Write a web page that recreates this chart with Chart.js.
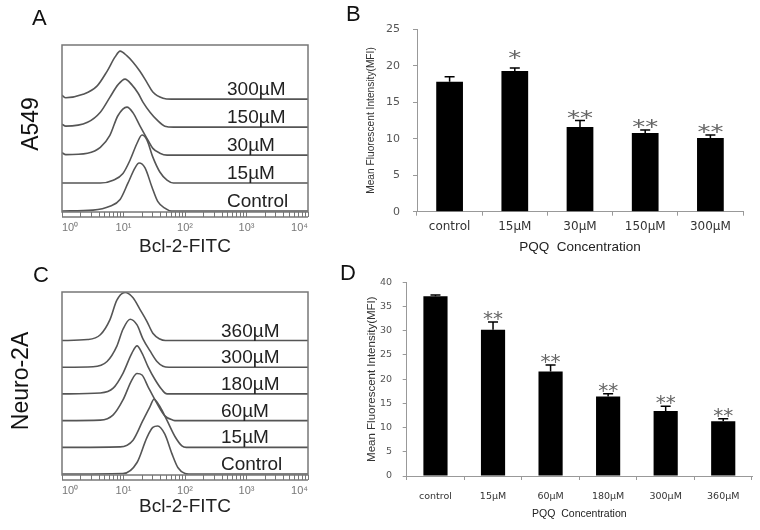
<!DOCTYPE html>
<html lang="en">
<head>
<meta charset="UTF-8">
<title>Bcl-2 expression after PQQ treatment</title>
<script src="https://cdn.jsdelivr.net/npm/chart.js"></script>
<style>
  body { margin: 0; background: #fff; }
  #fig { position: relative; width: 760px; height: 530px; overflow: hidden; font-family: 'Liberation Sans', Arial, sans-serif; }
  canvas { position: absolute; }
  .letter { position: absolute; font-size: 22px; line-height: 22px; color: #111; }
  .side { position: absolute; font-size: 23px; line-height: 23px; color: #111; white-space: nowrap; transform: translate(-50%, -50%) rotate(-90deg); }
</style>
</head>
<body>
<div id="fig">
  <canvas id="histA" width="330" height="265" style="left:0;top:0"></canvas>
  <canvas id="barB" width="420" height="260" style="left:340px;top:0"></canvas>
  <canvas id="histC" width="330" height="270" style="left:0;top:260px"></canvas>
  <canvas id="barD" width="420" height="270" style="left:340px;top:260px"></canvas>
  <div class="letter" style="left:32px;top:7px">A</div>
  <div class="letter" style="left:346px;top:3px">B</div>
  <div class="letter" style="left:33px;top:264px">C</div>
  <div class="letter" style="left:340px;top:262px">D</div>
  <div class="side" style="left:30px;top:124px">A549</div>
  <div class="side" style="left:20px;top:381px">Neuro-2A</div>
</div>

<script>
  // ---- panel A : A549 histograms, [fluorescence, % of peak], listed bottom to top
  const aLabels = ['Control', '15µM', '30µM', '150µM', '300µM'];
  const aControl = [[1,0],[3.2,2],[6,10],[8.8,24],[11.8,58],[15.4,90],[17.9,100],[22.4,90],[29,50],[36,20],[47,6],[60,0],[10000,0]];
  const a15 = [[1,0],[4.2,0],[6.8,6],[9.8,20],[12.8,48],[16.6,83],[20,100],[24,90],[30,54],[39,23],[51,6],[65,0],[10000,0]];
  const a30 = [[1,5],[1.15,1],[2.6,4],[4.2,16],[6,41],[8.1,82],[11.4,100],[14.3,88],[18.5,61],[24,35],[30,14],[39,4],[51,0],[10000,0]];
  const a150 = [[1,6],[1.15,2],[2.6,10],[4.2,31],[6,62],[8.1,88],[10.6,100],[13.7,88],[17.2,71],[20.7,52],[27,31],[35,15],[47,2],[65,0],[10000,0]];
  const a300 = [[1,8],[1.15,3],[2.2,10],[3.7,27],[5.4,58],[7.3,88],[8.8,100],[11.4,90],[14.3,77],[18.5,58],[24,35],[30,15],[44,2],[60,0],[10000,0]];

  // ---- panel C : Neuro-2A histograms
  const cLabels = ['Control', '15µM', '60µM', '180µM', '300µM', '360µM'];
  const cControl = [[1,0],[9.8,1],[16.6,24],[24,76],[30,97],[36,100],[47,83],[61,43],[77,13],[100,1],[115,0],[10000,0]];
  const c15 = [[1,0],[8.8,1],[14.3,15],[20.7,56],[27,85],[31.3,100],[39,85],[51,56],[69,22],[89,3],[105,0],[10000,0]];
  const c60 = [[1,0],[4.2,1],[6.8,12],[9.8,43],[13.7,85],[16.6,98],[20,95],[25,71],[35,36],[47,10],[64,1],[75,0],[10000,0]];
  const c180 = [[1,0],[4.2,2],[6.8,12],[9.8,43],[13.7,85],[16.6,100],[20,85],[25,57],[32.5,30],[42,9],[51,0],[10000,0]];
  const c300 = [[1,0],[3.2,1],[5.4,12],[7.8,44],[9.8,79],[12.8,100],[16.6,88],[20.7,59],[27,34],[35,12],[44,2],[55,0],[10000,0]];
  const c360 = [[1,0],[2.6,2],[4.2,12],[6,43],[7.8,84],[10.6,100],[14.3,89],[18.5,65],[24,40],[30,15],[39,3],[48,0],[10000,0]];

  // ---- panel B : A549 MFI
  const bCategories = ['control', '15µM', '30µM', '150µM', '300µM'];
  const bMeans = [17.8, 19.3, 11.6, 10.8, 10.1];
  const bErrors = [0.7, 0.4, 0.9, 0.4, 0.4];
  const bMarks = ['', '*', '**', '**', '**'];

  // ---- panel D : Neuro-2A MFI
  const dCategories = ['control', '15µM', '60µM', '180µM', '300µM', '360µM'];
  const dMeans = [37.1, 30.2, 21.6, 16.4, 13.4, 11.3];
  const dErrors = [0.3, 1.6, 1.3, 0.6, 1.0, 0.5];
  const dMarks = ['', '**', '**', '**', '**', '**'];

  const FONT = "'Liberation Sans', Arial, sans-serif";
  const SUP = ['⁰', '¹', '²', '³', '⁴'];

  // frame, bottom rule and curve names for the histogram panels
  function histFrame(o) {
    return {
      id: 'histFrame',
      afterDraw(chart) {
        const { ctx, chartArea: a, scales: { y } } = chart;
        ctx.save();
        ctx.strokeStyle = '#777';
        ctx.lineWidth = 1.5;
        ctx.strokeRect(a.left, a.top, a.right - a.left, a.bottom - a.top);
        ctx.beginPath();
        ctx.moveTo(a.left, a.bottom + 5);
        ctx.lineTo(a.right, a.bottom + 5);
        ctx.stroke();
        ctx.fillStyle = '#222';
        ctx.font = '19px ' + FONT;
        ctx.textAlign = 'left';
        ctx.textBaseline = 'alphabetic';
        chart.data.datasets.forEach((ds, i) => {
          ctx.fillText(ds.label, a.left + o.labelX, y.getPixelForValue(o.base + i * o.gap) - 4);
        });
        ctx.restore();
      }
    };
  }

  function histChart(id, curves, labels, o) {
    const datasets = curves.map((pts, i) => ({
      label: labels[i],
      data: pts.map(p => ({ x: p[0], y: o.base + i * o.gap + p[1] })),
      borderColor: '#555',
      borderWidth: 1.6,
      pointRadius: 0,
      cubicInterpolationMode: 'monotone',
      fill: false
    }));
    return new Chart(document.getElementById(id), {
      type: 'line',
      data: { datasets },
      options: {
        responsive: false,
        animation: false,
        layout: { padding: { left: 62, right: 22, top: o.top, bottom: 0 } },
        plugins: { legend: { display: false }, tooltip: { enabled: false } },
        scales: {
          x: {
            type: 'logarithmic', min: 1, max: 10000,
            // keep 1..9 per decade only
            afterBuildTicks: s => {
              s.ticks = s.ticks.filter(t => {
                const m = t.value / Math.pow(10, Math.floor(Math.log10(t.value) + 1e-9));
                return Math.abs(m - Math.round(m)) < 1e-6;
              });
            },
            afterFit: s => { s.height = o.axisHeight; },
            grid: { drawOnChartArea: false, tickLength: 5, color: '#777' },
            border: { display: false },
            ticks: {
              autoSkip: false, maxRotation: 0, align: 'inner', padding: 4, color: '#777',
              font: { family: FONT, size: 11 },
              callback: v => {
                const e = Math.log10(v);
                return Math.abs(e - Math.round(e)) < 1e-9 ? '10' + SUP[Math.round(e)] : '';
              }
            },
            title: { display: true, text: 'Bcl-2-FITC', color: '#222', font: { family: FONT, size: 19 },
                     padding: { top: 0, bottom: o.titlePad } }
          },
          y: { display: false, min: 0, max: o.yMax }
        }
      },
      plugins: [histFrame(o)]
    });
  }

  // upper error whiskers and significance stars
  function errorBars(errs, marks, starScale) {
    return {
      id: 'errorBars',
      afterDatasetsDraw(chart) {
        const { ctx, scales: { y } } = chart;
        const ds = chart.data.datasets[0];
        ctx.save();
        chart.getDatasetMeta(0).data.forEach((bar, i) => {
          const top = y.getPixelForValue(ds.data[i] + errs[i]);
          ctx.strokeStyle = '#000';
          ctx.lineWidth = 1.5;
          ctx.beginPath();
          ctx.moveTo(bar.x, bar.y);
          ctx.lineTo(bar.x, top);
          ctx.moveTo(bar.x - 5, top);
          ctx.lineTo(bar.x + 5, top);
          ctx.stroke();
          if (marks[i]) {
            ctx.save();
            ctx.fillStyle = '#666';
            ctx.font = "20px 'DejaVu Sans'";
            ctx.textAlign = 'center';
            ctx.textBaseline = 'alphabetic';
            // a lone star sits a little higher in the original
            ctx.translate(bar.x, top + (marks[i].length === 1 ? -4 : 3));
            ctx.scale(starScale, 1);
            ctx.fillText(marks[i], 0, 0);
            ctx.restore();
          }
        });
        ctx.restore();
      }
    };
  }

  function barChart(id, cats, means, errs, marks, o) {
    return new Chart(document.getElementById(id), {
      type: 'bar',
      data: {
        labels: cats,
        datasets: [{ data: means, backgroundColor: '#000', barPercentage: o.barPct, categoryPercentage: 1 }]
      },
      options: {
        responsive: false,
        animation: false,
        layout: { padding: { left: 0, right: o.right, top: o.top, bottom: 0 } },
        plugins: { legend: { display: false }, tooltip: { enabled: false } },
        scales: {
          x: {
            grid: { drawOnChartArea: false, tickLength: 4, color: '#999' },
            border: { color: '#999' },
            ticks: { color: '#333', padding: o.xPad, font: { family: "'DejaVu Sans'", size: o.xFont } },
            afterFit: s => { s.height = o.xHeight; },
            title: { display: true, text: 'PQQ  Concentration', color: '#222',
                     font: { family: FONT, size: o.titleFont }, padding: { top: 0, bottom: o.titlePad } }
          },
          y: {
            min: 0, max: o.yMax,
            ticks: { stepSize: 5, color: '#555', padding: o.yPad, font: { family: "'DejaVu Sans'", size: o.yFont } },
            grid: { drawOnChartArea: false, tickLength: 4, color: '#999' },
            border: { color: '#999' },
            afterFit: s => { s.width = o.yWidth; },
            title: { display: true, text: 'Mean Fluorescent Intensity(MFI)', color: '#333',
                     font: { family: FONT, size: o.yTitleFont },
                     padding: { top: o.yTitlePad, bottom: 0 } }
          }
        }
      },
      plugins: [errorBars(errs, marks, o.starScale)]
    });
  }

  histChart('histA', [aControl, a15, a30, a150, a300], aLabels,
    { top: 45, axisHeight: 53, titlePad: 6.6, yMax: 348, base: 2, gap: 58.3, labelX: 165 });

  histChart('histC', [cControl, c15, c60, c180, c300, c360], cLabels,
    { top: 32, axisHeight: 55, titlePad: 11.6, yMax: 381, base: 2, gap: 55.6, labelX: 159 });

  barChart('barB', bCategories, bMeans, bErrors, bMarks,
    { top: 29.3, right: 17, yWidth: 77, xHeight: 48.3, xPad: 4, xFont: 12, titleFont: 13.5, titlePad: 4.9,
      yPad: 13, yFont: 11, yTitleFont: 10.2, yTitlePad: 25, barPct: 0.41, yMax: 25, starScale: 1.3 });

  barChart('barD', dCategories, dMeans, dErrors, dMarks,
    { top: 22.3, right: 8, yWidth: 66.7, xHeight: 54, xPad: 10.6, xFont: 9.5, titleFont: 10.5, titlePad: 9.7,
      yPad: 10.7, yFont: 9.5, yTitleFont: 11.5, yTitlePad: 25, barPct: 0.42, yMax: 40, starScale: 1 });
</script>
</body>
</html>
